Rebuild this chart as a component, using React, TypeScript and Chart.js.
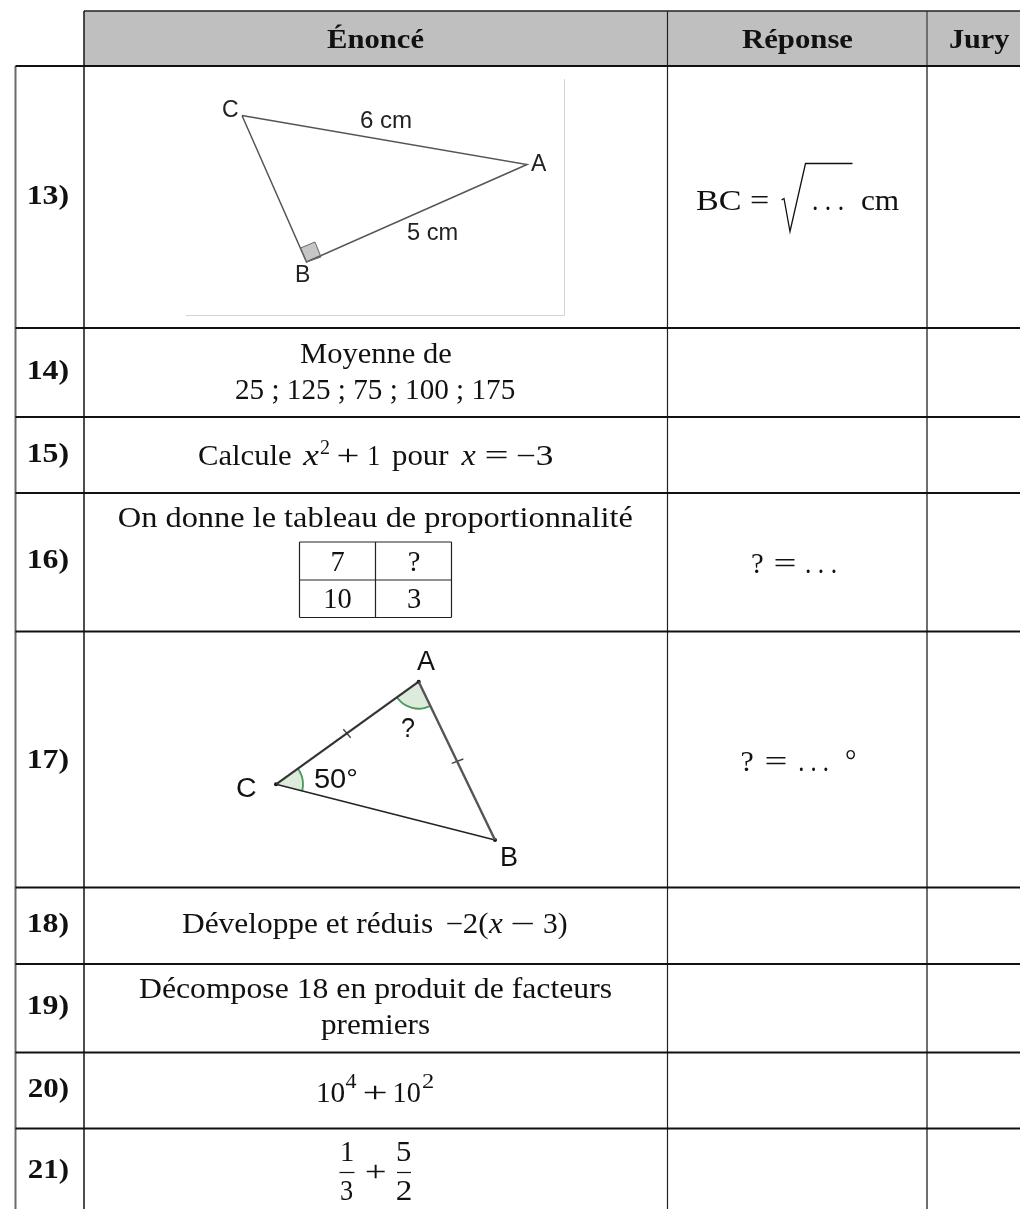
import React, { useEffect, useRef } from "react";
import { Chart, registerables } from "chart.js";

Chart.register(...registerables);

const W = 1020;
const H = 1209;

// ---------- table structure ----------
const columnRules = [15.5, 84, 667.5, 927];
const rowRules = [66, 328, 417, 493, 631.5, 887.5, 964, 1052.5, 1128.5];
const headerTop = 11;
const rowBaselines = [204, 379, 462, 568, 768, 932, 1014, 1097, 1178];
const rowLabels = ["13)", "14)", "15)", "16)", "17)", "18)", "19)", "20)", "21)"];
const headerLabels = ["Énoncé", "Réponse", "Jury"];
const headerSpans = [[327, 424], [742, 853], [950, 1010]];
const headerBaseline = 48;

// ---------- figure 13 ----------
const triangle13X = [242, 527, 306.5, 242];
const triangle13Y = [115.5, 164.5, 262, 115.5];
const squareX = [300.5, 315, 321, 306.5, 300.5];
const squareY = [248, 242, 257, 262, 248];
const frameX = [186, 564.5, 564.5];
const frameY = [315.5, 315.5, 79];
const labels13 = ["C", "6 cm", "A", "5 cm", "B"];
const labels13Span = [[223, 238], [361, 411], [531, 547], [407, 457], [296, 310]];
const labels13Base = [116.5, 128, 170.5, 240, 281.5];

// ---------- figure 17 ----------
const sideCAX = [276, 418.7];
const sideCAY = [784.3, 681.7];
const sideABX = [418.7, 495];
const sideABY = [681.7, 840];
const sideCBX = [276, 495];
const sideCBY = [784.3, 840];
const tick1X = [343.3, 350.7];
const tick1Y = [729.3, 737.7];
const tick2X = [451.7, 463.3];
const tick2Y = [763.3, 759];
const arcCX = [298.4, 301, 302.6, 303, 302.2];
const arcCY = [769.2, 774.2, 779.6, 785.2, 790.8];
const arcAX = [396.9, 403.6, 412.2, 421.5, 430.5];
const arcAY = [697.6, 704.1, 707.9, 708.6, 706];
const labels17 = ["A", "?", "C", "50°", "B"];
const labels17Span = [[417, 435], [402, 415], [237, 256], [315, 357], [502, 517]];
const labels17Base = [670, 737, 797, 788, 866];

// ---------- inner table of 16 ----------
const innerColumns = [299.5, 375.5, 451.5];
const innerRows = [542, 580, 617.5];
const innerCells = [["7", "?"], ["10", "3"]];
const innerCentersX = [337.5, 414];
const innerBaselines = [570.5, 608];

// ---------- text runs: string, style, left, right, baseline ----------
const runStrings = [
  "Moyenne de", "25 ; 125 ; 75 ; 100 ; 175",
  "Calcule", "x", "2", "+", "1", "pour", "x", "=", "−3",
  "On donne le tableau de proportionnalité",
  "Développe et réduis", "−2(", "x", "−", "3)",
  "Décompose 18 en produit de facteurs", "premiers",
  "10", "4", "+", "10", "2",
  "1", "3", "+", "5", "2",
  "BC =", ". . .", "cm",
  "?", "=", ". . .",
  "?", "=", ". . .", "°",
];
const runStyles = [
  "r", "r",
  "r", "i", "s", "r", "r", "r", "i", "r", "r",
  "r",
  "r", "r", "i", "r", "r",
  "r", "r",
  "r", "s", "r", "r", "s",
  "r", "r", "r", "r", "r",
  "r", "r", "r",
  "r", "r", "r",
  "r", "r", "r", "r",
];
const runLeft = [
  300, 236,
  199, 302, 320, 338, 369, 392, 460.5, 486, 517,
  119,
  182, 446.5, 488, 511.5, 544,
  139, 321,
  318, 345.5, 364, 394.5, 422,
  342, 341, 366, 397, 397,
  696, 813, 862,
  752, 775, 806,
  741.5, 766, 799, 846,
];
const runRight = [
  451, 515,
  291, 319, 329, 358, 379, 449, 476, 507, 553,
  632,
  433, 488, 503, 533, 567,
  612, 430,
  345, 356.5, 386, 420.5, 433,
  353, 353, 385, 411, 411,
  768, 843, 899,
  763, 795, 836,
  753, 786, 828, 855,
];
const runBase = [
  362.5, 398.5,
  465, 465, 454, 465, 465, 465, 465, 465, 465,
  527,
  933, 933, 933, 933, 933,
  998, 1034,
  1101.5, 1088, 1101.5, 1101.5, 1088,
  1161, 1200, 1181, 1161, 1200,
  210, 210, 210,
  572.5, 572.5, 572.5,
  770.5, 770.5, 770.5, 769.5,
];

// ---------- radical and fraction bars ----------
const radicalX = [781.5, 784, 790, 805.5, 852.5];
const radicalY = [200, 198.5, 231.5, 163.5, 163.5];
const fractionBar1X = [339.5, 354.5];
const fractionBar2X = [397, 411];
const fractionBarY = [1172.5, 1172.5];

function pts(xs: number[], ys: number[]) {
  return xs.map((x, i) => ({ x, y: ys[i] }));
}

function rule(data: any[], color: string, width: number, extra: any = {}) {
  return {
    type: "line",
    data,
    borderColor: color,
    borderWidth: width,
    pointRadius: 0,
    tension: 0,
    fill: false,
    ...extra,
  };
}

function hLine(y: number, x0: number, x1: number) {
  return [{ x: x0, y }, { x: x1, y }];
}
function vLine(x: number, y0: number, y1: number) {
  return [{ x, y: y0 }, { x, y: y1 }];
}

const SERIF = '"Liberation Serif"';
const SANS = '"Liberation Sans"';

function fontFor(style: string) {
  if (style === "i") return `italic 29px ${SERIF}`;
  if (style === "s") return `20px ${SERIF}`;
  return `28.5px ${SERIF}`;
}

function fitted(
  ctx: CanvasRenderingContext2D,
  text: string,
  font: string,
  left: number,
  right: number,
  baseline: number,
  color = "#111"
) {
  ctx.save();
  ctx.font = font;
  ctx.fillStyle = color;
  ctx.textAlign = "left";
  ctx.textBaseline = "alphabetic";
  const m = ctx.measureText(text);
  const inkLeft = -m.actualBoundingBoxLeft;
  const inkW = m.actualBoundingBoxRight + m.actualBoundingBoxLeft;
  const sx = (right - left) / (inkW || 1);
  ctx.translate(left, baseline);
  ctx.scale(sx, 1);
  ctx.fillText(text, -inkLeft, 0);
  ctx.restore();
}

const tablePlugin = {
  id: "tableText",
  beforeDatasetsDraw(chart: any) {
    const { ctx, scales } = chart;
    const X = (v: number) => scales.x.getPixelForValue(v);
    const Y = (v: number) => scales.y.getPixelForValue(v);
    const poly = (xs: number[], ys: number[], color: string) => {
      ctx.save();
      ctx.fillStyle = color;
      ctx.beginPath();
      xs.forEach((x, i) => (i ? ctx.lineTo(X(x), Y(ys[i])) : ctx.moveTo(X(x), Y(ys[i]))));
      ctx.closePath();
      ctx.fill();
      ctx.restore();
    };
    poly([columnRules[1], W, W, columnRules[1]], [headerTop, headerTop, rowRules[0], rowRules[0]], "#bfbfbf");
    poly(squareX, squareY, "#c6c6c6");
    poly([sideCAX[0], ...arcCX], [sideCAY[0], ...arcCY], "#dcebdc");
    poly([sideCAX[1], ...arcAX], [sideCAY[1], ...arcAY], "#dcebdc");
  },
  afterDatasetsDraw(chart: any) {
    const { ctx, scales } = chart;
    const X = (v: number) => scales.x.getPixelForValue(v);
    const Y = (v: number) => scales.y.getPixelForValue(v);

    headerLabels.forEach((t, i) =>
      fitted(ctx, t, `bold 27px ${SERIF}`, X(headerSpans[i][0]), X(headerSpans[i][1]), Y(headerBaseline))
    );
    rowLabels.forEach((t, i) => fitted(ctx, t, `bold 27px ${SERIF}`, X(29), X(68), Y(rowBaselines[i])));
    labels13.forEach((t, i) =>
      fitted(ctx, t, `23px ${SANS}`, X(labels13Span[i][0]), X(labels13Span[i][1]), Y(labels13Base[i]), "#222")
    );
    labels17.forEach((t, i) =>
      fitted(ctx, t, `27px ${SANS}`, X(labels17Span[i][0]), X(labels17Span[i][1]), Y(labels17Base[i]), "#111")
    );
    runStrings.forEach((t, i) =>
      fitted(ctx, t, fontFor(runStyles[i]), X(runLeft[i]), X(runRight[i]), Y(runBase[i]))
    );
    ctx.save();
    ctx.font = `28.5px ${SERIF}`;
    ctx.fillStyle = "#111";
    ctx.textAlign = "center";
    ctx.textBaseline = "alphabetic";
    innerCells.forEach((row, r) =>
      row.forEach((t, c) => ctx.fillText(t, X(innerCentersX[c]), Y(innerBaselines[r])))
    );
    ctx.restore();
  },
};

export default function App() {
  const ref = useRef<HTMLCanvasElement>(null);
  useEffect(() => {
    document.body.style.margin = "0";
    const datasets: any[] = [
      rule(pts(frameX, frameY), "#d4d4d4", 1),
      rule(pts(squareX, squareY), "#666", 1),
      rule(pts(triangle13X, triangle13Y), "#555", 1.5),
      ...rowRules.map((y) => rule(hLine(y, columnRules[0], W), "#111", 1.8)),
      rule(hLine(headerTop, columnRules[1], W), "#222", 1.6),
      rule(vLine(columnRules[0], rowRules[0], H), "#6a6a6a", 2),
      rule(vLine(columnRules[1], headerTop, H), "#222", 1.6),
      rule(vLine(columnRules[2], headerTop, H), "#222", 1.2),
      rule(vLine(columnRules[3], headerTop, H), "#6e6e6e", 2),
      ...innerRows.map((y) => rule(hLine(y, innerColumns[0], innerColumns[2]), "#222", 1.2)),
      ...innerColumns.map((x) => rule(vLine(x, innerRows[0], innerRows[2]), "#222", 1.2)),
      rule(pts(sideCAX, sideCAY), "#333", 2.2),
      rule(pts(sideABX, sideABY), "#555", 2.4),
      rule(pts(sideCBX, sideCBY), "#222", 1.4),
      rule(pts(tick1X, tick1Y), "#444", 1.4),
      rule(pts(tick2X, tick2Y), "#444", 1.4),
      rule(pts(arcCX, arcCY), "#4a9a5a", 1.8, { tension: 0.4 }),
      rule(pts(arcAX, arcAY), "#4a9a5a", 1.8, { tension: 0.4 }),
      {
        type: "scatter",
        data: [
          { x: sideCAX[0], y: sideCAY[0] },
          { x: sideCAX[1], y: sideCAY[1] },
          { x: sideABX[1], y: sideABY[1] },
        ],
        pointRadius: 2,
        pointBackgroundColor: "#111",
        pointBorderWidth: 0,
      },
      rule(pts(radicalX, radicalY), "#111", 1.3),
      rule(pts(fractionBar1X, fractionBarY), "#111", 1.2),
      rule(pts(fractionBar2X, fractionBarY), "#111", 1.2),
    ];
    const chart = new Chart(ref.current as HTMLCanvasElement, {
      type: "line",
      data: { datasets },
      plugins: [tablePlugin],
      options: {
        animation: false,
        responsive: false,
        devicePixelRatio: 1,
        layout: { padding: 0, autoPadding: false },
        events: [],
        parsing: false,
        normalized: true,
        plugins: { legend: { display: false }, title: { display: false }, tooltip: { enabled: false } },
        scales: {
          x: { type: "linear", display: false, min: 0, max: W },
          y: { type: "linear", display: false, min: 0, max: H, reverse: true },
        },
      },
    } as any);
    return () => chart.destroy();
  }, []);
  return (
    <canvas
      ref={ref}
      width={W}
      height={H}
      style={{ display: "block", width: W, height: H, background: "#fff" }}
    />
  );
}
